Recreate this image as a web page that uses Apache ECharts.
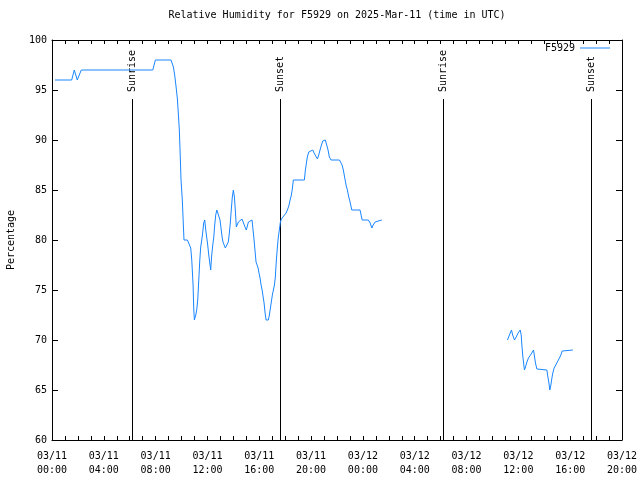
<!DOCTYPE html>
<html>
<head>
<meta charset="utf-8">
<script src="https://cdn.jsdelivr.net/npm/echarts@6/dist/echarts.min.js"></script>
<style>html,body{margin:0;padding:0;background:#fff}#c{width:640px;height:480px}</style>
</head>
<body>
<div id="c"></div>
<script>
// Hours since 2025-03-11 00:00 UTC and relative humidity (%)
var hours1 = [0.23,1.52,1.72,1.95,2.26,7.78,7.98,9.19,9.27,9.37,9.47,9.58,9.68,9.75,9.83,9.91,9.96,10.06,10.14,10.19,10.45,10.71,10.79,10.89,10.94,10.99,11.10,11.17,11.25,11.33,11.41,11.48,11.56,11.64,11.71,11.79,11.87,12.02,12.10,12.25,12.33,12.41,12.49,12.56,12.64,12.72,12.80,12.97,13.13,13.20,13.38,13.46,13.61,13.69,13.77,13.85,13.92,14.00,14.08,14.15,14.23,14.39,14.52,14.67,14.90,15.00,15.16,15.44,15.60,15.68,15.75,15.91,15.98,16.06,16.14,16.22,16.37,16.45,16.53,16.70,16.78,16.86,16.93,17.01,17.17,17.24,17.32,17.40,17.47,17.55,17.63,17.71,17.86,18.07,18.17,18.28,18.38,18.48,18.56,18.63,19.48,19.56,19.64,19.71,19.82,19.92,20.13,20.23,20.49,20.59,20.69,20.80,20.90,21.10,21.31,21.41,21.54,22.19,22.39,22.49,22.60,22.70,22.80,22.91,23.01,23.14,23.78,23.86,23.94,24.42,24.56,24.69,24.79,24.94,25.07,25.46];
var rh1 = [96,96,97,96,97,97,98,98,97.9,97.3,96.5,95.3,94.1,92.7,91,88,86,84,81.5,80,80,79.2,78,75.5,73.2,72,72.5,73,74,76,78,79.3,80,80.8,81.7,82,81,79.5,78.5,77,78.5,79.5,80.3,81.5,82.5,83,82.7,82,80.3,79.8,79.2,79,79.8,80.7,81.8,83.2,84.3,85,84.3,83,81.3,81.8,82,82.1,81.3,81,81.8,82,80,78.8,77.8,77.2,76.7,76.2,75.5,75,73.7,72.7,72,72,72.5,73.2,73.8,74.5,75.5,76.3,78,79.3,80.3,81,81.8,82.1,82,82.7,83,83.4,84,84.5,85.2,86,86,87,87.7,88.3,88.8,89,89,88.7,88.1,88.5,89,89.5,89.9,90,89,88.3,88,88,87.5,87,86.2,85.5,85,84.3,83.8,83,83,82.5,82,82,81.7,81.2,81.5,81.8,82,82];
var hours2 = [35.16,35.31,35.47,35.56,35.70,35.83,35.98,36.14,36.22,36.27,36.35,36.47,36.55,36.66,36.78,37.04,37.17,37.32,37.43,37.53,38.20,38.28,38.36,38.43,38.51,38.59,38.66,38.76,38.97,39.17,39.28,39.38,39.48,40.21];
var rh2 = [70,70.5,71,70.5,70,70.3,70.7,71,70.5,69.5,68.3,67,67.3,67.8,68.2,68.7,69,67.7,67.1,67,67,66.3,65.7,65,65.5,66.2,66.7,67.2,67.7,68.2,68.5,68.9,69,69];
var sunHours = [6.2, 17.6, 30.17, 41.6];
var sunLabels = ['Sunrise', 'Sunset', 'Sunrise', 'Sunset'];
var yTicks = [60, 65, 70, 75, 80, 85, 90, 95, 100];

var FONT = '"DejaVu Sans Mono", monospace';
var seriesData = [];
hours1.forEach(function (h, i) { seriesData.push([h, rh1[i]]); });
seriesData.push([30, null]);
hours2.forEach(function (h, i) { seriesData.push([h, rh2[i]]); });

function fmtX(v) {
  if (v % 4 !== 0) return '';
  var day = 11 + Math.floor(v / 24);
  var hh = v % 24;
  return '03/' + day + '\n' + (hh < 10 ? '0' : '') + hh + ':00';
}

var xCommon = {
  type: 'value', min: 0, max: 44, interval: 1,
  axisLine: { show: true, onZero: false, lineStyle: { color: '#000', width: 1 } },
  axisTick: { show: true, inside: true, length: 4, lineStyle: { color: '#000' } },
  splitLine: { show: false }
};
var yCommon = {
  type: 'value', min: yTicks[0], max: yTicks[yTicks.length - 1], interval: 5,
  axisLine: { show: true, onZero: false, lineStyle: { color: '#000', width: 1 } },
  axisTick: { show: true, inside: true, length: 6, lineStyle: { color: '#000' } },
  splitLine: { show: false }
};

var chart = echarts.init(document.getElementById('c'), null, { renderer: 'canvas' });
chart.setOption({
  backgroundColor: '#fff',
  animation: false,
  title: {
    text: 'Relative Humidity for F5929 on 2025-Mar-11 (time in UTC)',
    left: 337, top: 10, textAlign: 'center', padding: 0,
    textStyle: { fontFamily: FONT, fontSize: 10, fontWeight: 'normal', color: '#000' }
  },
  legend: {
    data: ['F5929'], right: 30, top: 43, align: 'right', padding: 0,
    icon: 'rect', itemWidth: 30, itemHeight: 1, itemGap: 5,
    textStyle: { fontFamily: FONT, fontSize: 10, color: '#000' }
  },
  grid: { left: 52, right: 18, top: 40, bottom: 40, containLabel: false, outerBoundsMode: 'none' },
  xAxis: [
    Object.assign({}, xCommon, {
      position: 'bottom',
      axisLabel: { show: true, formatter: fmtX, fontFamily: FONT, fontSize: 10, color: '#000', lineHeight: 14, margin: 9, hideOverlap: false, showMinLabel: true, showMaxLabel: true }
    }),
    Object.assign({}, xCommon, { position: 'top', axisLabel: { show: false } })
  ],
  yAxis: [
    Object.assign({}, yCommon, {
      position: 'left',
      name: 'Percentage', nameLocation: 'middle', nameGap: 36, nameRotate: 90,
      nameTextStyle: { fontFamily: FONT, fontSize: 10, color: '#000' },
      axisLabel: { show: true, fontFamily: FONT, fontSize: 10, color: '#000', margin: 5 }
    }),
    Object.assign({}, yCommon, { position: 'right', axisLabel: { show: false } })
  ],
  series: [
    {
      name: 'F5929', type: 'line', xAxisIndex: 0, yAxisIndex: 0,
      data: seriesData, showSymbol: false, symbol: 'none', connectNulls: false,
      lineStyle: { color: '#1a86ff', width: 1 }, itemStyle: { color: '#1a86ff' }
    },
    {
      name: 'sun', type: 'custom', xAxisIndex: 0, yAxisIndex: 0,
      data: sunHours.map(function (h) { return [h]; }),
      encode: { x: 0 },
      renderItem: function (params, api) {
        var x = api.value(0);
        var p0 = api.coord([x, 60]);
        var p1 = api.coord([x, 94.1]);
        var px = Math.round(p0[0]) + 0.5;
        return {
          type: 'group',
          children: [
            { type: 'line', shape: { x1: px, y1: p0[1], x2: px, y2: p1[1] }, style: { stroke: '#000', lineWidth: 1 } },
            { type: 'text', x: px, y: p1[1] - 7, rotation: Math.PI / 2,
              style: { text: sunLabels[params.dataIndex], font: '10px ' + FONT, fill: '#000', align: 'left', verticalAlign: 'middle' } }
          ]
        };
      }
    }
  ]
});
</script>
</body>
</html>
